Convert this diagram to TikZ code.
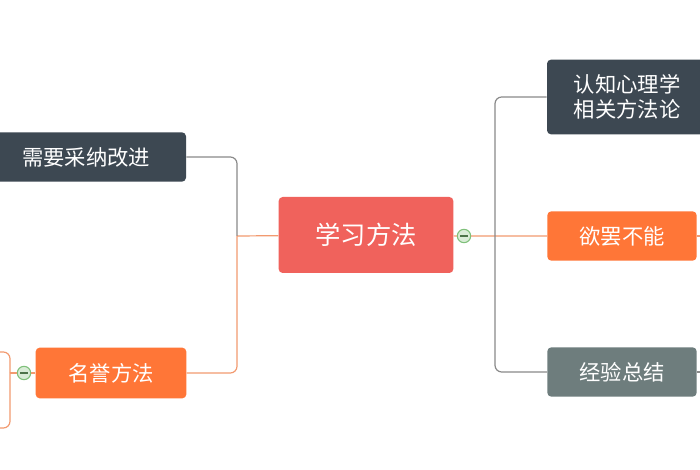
\documentclass[tikz,border=0pt]{standalone}
\usepackage{fontspec}
\setmainfont{Noto Sans CJK SC}
\definecolor{darkbox}{HTML}{3D4852}
\definecolor{orangebox}{HTML}{FF7637}
\definecolor{graybox}{HTML}{6E7D7D}
\definecolor{redbox}{HTML}{F0625C}
\definecolor{grayline}{HTML}{8A8A8A}
\definecolor{orangeline}{HTML}{F29A70}
\definecolor{foldgreen}{HTML}{7FC07A}
\tikzset{
  topic/.style={rounded corners=3pt, text=white, inner sep=0pt, font=\fontsize{16}{19}\selectfont, align=center},
  fold/.style={circle, draw=foldgreen, fill=foldgreen!30, line width=0.8pt, minimum size=10pt, inner sep=0pt},
  link/.style={line width=0.9pt, rounded corners=5pt}
}
\begin{document}
\begin{tikzpicture}[x=0.75pt,y=-0.75pt]
\useasboundingbox (0,0) rectangle (700,470);
\clip (0,0) rectangle (700,470);
\fill[white] (0,0) rectangle (700,470);

% nodes
\node[topic, fill=redbox, minimum width=131pt, minimum height=57pt, font=\fontsize{19}{22}\selectfont] (center) at (366,235) {学习方法};
\node[topic, fill=darkbox, minimum width=120pt, minimum height=56pt] (cognitive) at (627,97) {认知心理学\\相关方法论};
\node[topic, fill=orangebox, minimum width=112pt, minimum height=37pt] (desire) at (622,236) {欲罢不能};
\node[topic, fill=graybox, minimum width=112pt, minimum height=37pt] (experience) at (622,372) {经验总结};
\node[topic, fill=darkbox, minimum width=150pt, minimum height=37pt] (improve) at (86,157) {需要采纳改进};
\node[topic, fill=orangebox, minimum width=113pt, minimum height=38pt] (honor) at (111,373) {名誉方法};

\node[fold] (rfold) at (464,236) {};
\node[fold] (lfold) at (24,373) {};
\coordinate (rtrunk) at (495,236);
\coordinate (ltrunk) at (237,236);
\coordinate (ftrunk) at (10,373);

% connectors
\draw[orangeline, line width=0.9pt] (center) -- (rfold) -- (desire);
\draw[link, grayline] (rtrunk) |- (cognitive);
\draw[link, grayline] (rtrunk) |- (experience);
\draw[orangeline, line width=0.9pt] (center) -- (ltrunk);
\draw[link, grayline] (ltrunk) |- (improve);
\draw[link, orangeline] (ltrunk) |- (honor);
\draw[orangeline, line width=0.9pt] (honor) -- (lfold) -- (ftrunk);
\draw[link, orangeline] (ftrunk) |- (-5,352);
\draw[link, orangeline] (ftrunk) |- (-5,428);
\draw[orangeline, line width=0.9pt] (desire) -- (705,236);
\draw[grayline, line width=0.9pt] (experience) -- (705,372);
\foreach \f in {rfold, lfold}
  \draw[foldgreen!60!black, line width=0.8pt] ([xshift=-3pt]\f.center) -- ([xshift=3pt]\f.center);
\end{tikzpicture}
\end{document}
